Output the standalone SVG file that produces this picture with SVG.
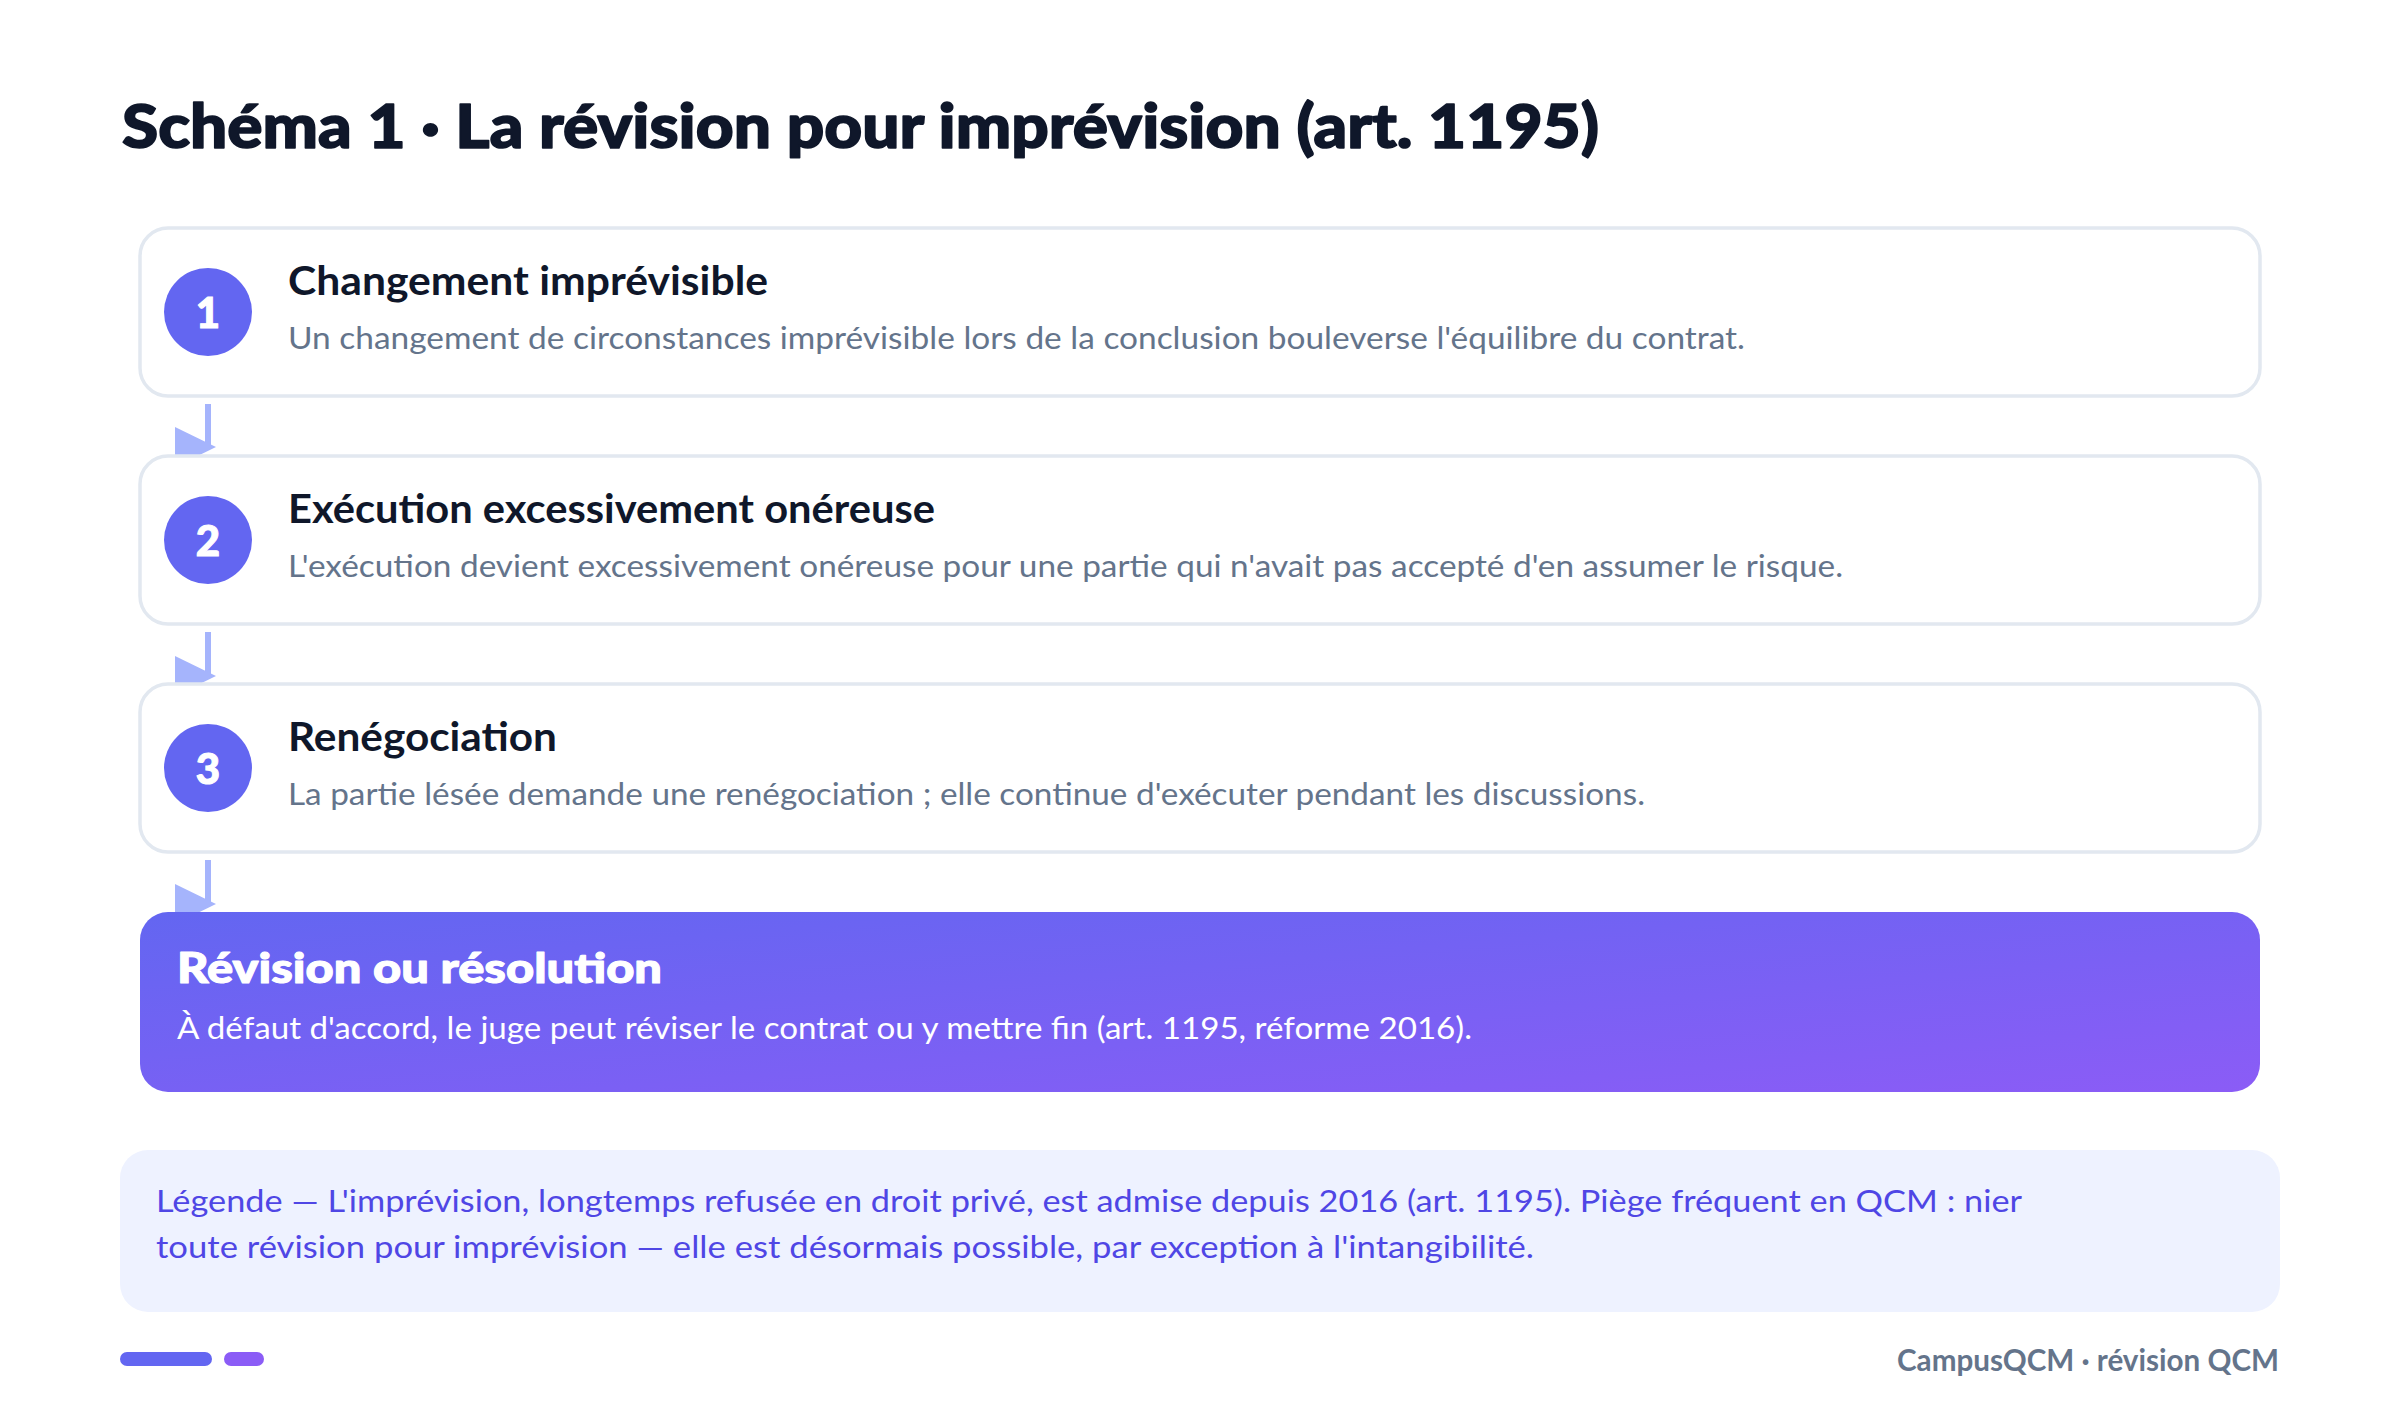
<svg xmlns="http://www.w3.org/2000/svg" width="2400" height="1420" viewBox="0 0 2400 1420">
<defs>
<linearGradient id="g" x1="0" y1="0" x2="1" y2="1"><stop offset="0" stop-color="#6366f1"/><stop offset="1" stop-color="#8b5cf6"/></linearGradient>
<style>
text{font-family:Lato,"Noto Sans","Open Sans",sans-serif}
.title{font-size:61px;font-weight:900;fill:#0f172a;stroke:#0f172a;stroke-width:1.6px;stroke-linejoin:round}
.card{fill:#fff;stroke:#e2e8f0;stroke-width:3.5}
.num{fill:#6366f1}
.numt{font-size:42px;font-weight:900;fill:#fff;stroke:#fff;stroke-width:1px;text-anchor:middle}
.ct{font-size:40px;font-weight:700;fill:#0f172a}
.cd{font-size:30px;font-weight:400;fill:#64748b}
.ft{font-size:42px;font-weight:900;fill:#fff;stroke:#fff;stroke-width:1.1px;stroke-linejoin:round}
.fd{font-size:30px;font-weight:400;fill:#fff}
.lg{font-size:31px;font-weight:400;fill:#4f46e5}
.foot{font-size:30px;font-weight:700;fill:#64748b;text-anchor:end}
.conn line{stroke:#a5b4fc;stroke-width:6}
.conn polygon{fill:#a5b4fc}
</style>
</defs>
<rect width="2400" height="1420" fill="#fff"/>
<text class="title" x="122" y="148" textLength="1477" lengthAdjust="spacingAndGlyphs">Schéma 1 · La révision pour imprévision (art. 1195)</text>
<g id="connectors" class="conn">
<line x1="208" y1="404" x2="208" y2="448"/><polygon points="175,427 216,447 175,467"/>
<line x1="208" y1="632" x2="208" y2="676"/><polygon points="175,656 216,676 175,696"/>
<line x1="208" y1="860" x2="208" y2="904"/><polygon points="175,884 216,904 175,924"/>
</g>
<g id="step1">
<rect class="card" x="140" y="228" width="2120" height="168" rx="28"/>
<circle class="num" cx="208" cy="312" r="44"/>
<text class="numt" x="208" y="328">1</text>
<text class="ct" x="288" y="295" textLength="480" lengthAdjust="spacingAndGlyphs">Changement imprévisible</text>
<text class="cd" x="288" y="349" textLength="1457" lengthAdjust="spacingAndGlyphs">Un changement de circonstances imprévisible lors de la conclusion bouleverse l'équilibre du contrat.</text>
</g>
<g id="step2">
<rect class="card" x="140" y="456" width="2120" height="168" rx="28"/>
<circle class="num" cx="208" cy="540" r="44"/>
<text class="numt" x="208" y="556">2</text>
<text class="ct" x="288" y="523" textLength="647" lengthAdjust="spacingAndGlyphs">Exécution excessivement onéreuse</text>
<text class="cd" x="288" y="577" textLength="1555" lengthAdjust="spacingAndGlyphs">L'exécution devient excessivement onéreuse pour une partie qui n'avait pas accepté d'en assumer le risque.</text>
</g>
<g id="step3">
<rect class="card" x="140" y="684" width="2120" height="168" rx="28"/>
<circle class="num" cx="208" cy="768" r="44"/>
<text class="numt" x="208" y="784">3</text>
<text class="ct" x="288" y="751" textLength="269" lengthAdjust="spacingAndGlyphs">Renégociation</text>
<text class="cd" x="288" y="805" textLength="1357" lengthAdjust="spacingAndGlyphs">La partie lésée demande une renégociation ; elle continue d'exécuter pendant les discussions.</text>
</g>
<g id="outcome">
<rect x="140" y="912" width="2120" height="180" rx="28" fill="url(#g)"/>
<text class="ft" x="177" y="983" textLength="485" lengthAdjust="spacingAndGlyphs">Révision ou résolution</text>
<text class="fd" x="177" y="1039" textLength="1295" lengthAdjust="spacingAndGlyphs">À défaut d'accord, le juge peut réviser le contrat ou y mettre fin (art. 1195, réforme 2016).</text>
</g>
<g id="legend">
<rect x="120" y="1150" width="2160" height="162" rx="28" fill="#eef2ff"/>
<text class="lg" x="156" y="1212" textLength="1866" lengthAdjust="spacingAndGlyphs">Légende — L'imprévision, longtemps refusée en droit privé, est admise depuis 2016 (art. 1195). Piège fréquent en QCM : nier</text>
<text class="lg" x="156" y="1258" textLength="1378" lengthAdjust="spacingAndGlyphs">toute révision pour imprévision — elle est désormais possible, par exception à l'intangibilité.</text>
</g>
<g id="footer">
<rect x="120" y="1352" width="92" height="14" rx="7" fill="#6366f1"/>
<rect x="224" y="1352" width="40" height="14" rx="7" fill="#8b5cf6"/>
<text class="foot" x="2279" y="1371" textLength="382" lengthAdjust="spacingAndGlyphs">CampusQCM · révision QCM</text>
</g>
</svg>
